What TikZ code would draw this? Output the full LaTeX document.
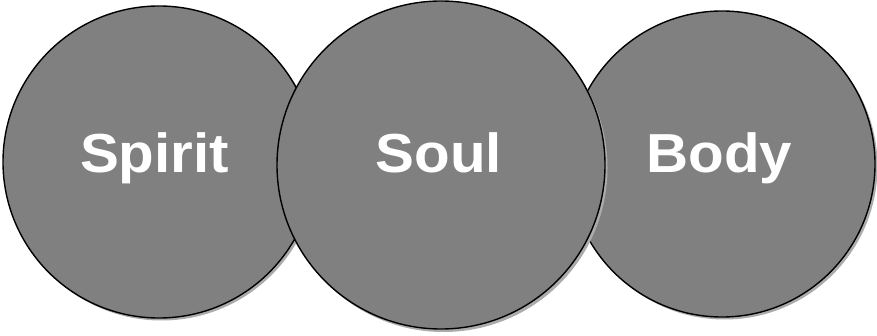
\documentclass[tikz,border=0pt]{standalone}
\usepackage{fontspec}
\setmainfont{Liberation Sans}
\begin{document}
\begin{tikzpicture}[x=1pt,y=1pt,
  ball/.style={circle,draw=black,line width=1.4pt,fill=ballgray,inner sep=0pt},
  word/.style={anchor=base,inner sep=0pt,text=white,
    font=\fontsize{55}{55}\selectfont\bfseries}]
\definecolor{ballgray}{HTML}{808080}
\definecolor{shadegray}{HTML}{ABABAB}
\useasboundingbox (0,0) rectangle (877,335);
% shadows
\fill[shadegray] (161.5,170.5) circle (156);
\fill[shadegray] (724.5,168.5) circle (153);
\node[ball,minimum size=312pt] (spirit) at (159,173) {};
\node[ball,minimum size=306pt] (body) at (722,171) {};
\fill[shadegray] (443.5,167) circle (164);
\node[ball,minimum size=328pt] (soul) at (441,170) {};
\node[word] (tspirit) at (154.5,163) {\scalebox{1.06}[1]{Spirit}};
\node[word] (tsoul) at (439,163) {\scalebox{1.06}[1]{Soul}};
\node[word] (tbody) at (719.5,163) {\scalebox{1.06}[1]{Body}};
\end{tikzpicture}
\end{document}
